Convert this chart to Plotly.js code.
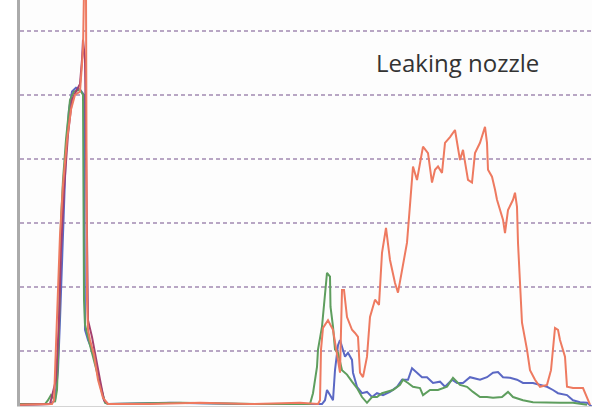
<!DOCTYPE html>
<html>
<head>
<meta charset="utf-8">
<script src="https://cdn.plot.ly/plotly-3.0.1.min.js"></script>
<style>html,body{margin:0;padding:0;background:#fff;}#chart{width:597px;height:412px;}</style>
</head>
<body>
<div id="chart"></div>
<script>
// Sample index (x) and signal level (y)
const redX = [0,20,32,34,36,38,40,43,47,51,55,60,63,64,66,67,68,70,74,78,83,88,130,180,230,280,298,300,301,303,308,313,316,320,322,324,327,332,335,338,340,343,347,350,355,359,362,366,370,375,378,383,387,390,393,397,403,408,412,415,418,422,425,430,435,440,443,448,452,455,460,465,467,468,472,475,477,483,485,488,493,495,497,498,500,502,507,510,515,520,527,531,535,538,540,545,547,553,563,567,570];
const redY = [0.16,0.17,0.17,0.23,1.09,1.80,2.81,3.59,4.30,4.77,5.00,5.05,5.70,6.64,6.64,1.80,1.33,1.17,0.94,0.55,0.27,0.17,0.17,0.19,0.17,0.19,0.17,0.23,1.02,1.36,1.48,1.33,1.02,0.66,1.95,1.95,1.53,1.33,1.28,1.22,0.66,0.59,0.91,1.53,1.80,1.72,2.53,2.92,2.42,2.06,1.91,2.38,2.69,3.28,3.88,3.67,4.19,4.09,3.63,3.83,3.88,3.78,4.25,4.34,4.45,3.98,4.14,3.67,3.63,4.09,4.25,4.50,4.25,3.83,3.72,3.52,3.36,3.05,2.84,3.20,3.36,3.47,3.25,2.69,2.11,1.44,1.02,0.70,0.55,0.44,0.47,0.70,1.36,1.33,1.17,0.91,0.44,0.42,0.42,0.28,0.16];

const blueX = [0,30,35,38,40,42,44,46,49,52,56,60,64,65,68,72,76,80,84,88,150,220,300,302,305,307,310,313,315,318,320,325,328,332,333,337,342,347,352,357,363,370,377,382,388,392,397,402,407,413,420,425,432,437,443,450,460,467,473,478,483,490,497,503,513,520,527,533,538,547,553,560,567,572];
const blueY = [0.16,0.17,0.23,0.70,1.48,2.42,3.36,4.14,4.77,5.05,5.11,5.08,5.00,1.33,1.17,1.02,0.78,0.47,0.23,0.17,0.19,0.17,0.17,0.17,0.23,0.39,0.31,0.23,0.70,1.09,1.17,0.91,0.97,0.86,0.66,0.44,0.34,0.36,0.28,0.34,0.31,0.36,0.44,0.55,0.55,0.73,0.66,0.59,0.59,0.50,0.52,0.44,0.55,0.50,0.50,0.59,0.55,0.59,0.66,0.67,0.59,0.58,0.55,0.50,0.50,0.47,0.44,0.39,0.34,0.31,0.23,0.20,0.19,0.13];

const greenX = [0,25,28,31,33,35,37,39,40,41,43,46,50,54,60,63,64,65,70,75,80,85,88,160,240,290,293,297,298,302,307,310,310.5,313,315,318,322,327,332,337,342,347,352,357,362,367,373,380,383,388,393,400,403,410,418,427,433,440,447,453,460,467,473,482,488,493,503,513,527,540,553,567];
const greenY = [0.17,0.17,0.23,0.31,0.27,0.20,0.39,1.33,2.27,3.05,3.67,4.30,4.92,5.05,5.08,5.00,1.80,1.41,1.09,0.78,0.47,0.19,0.17,0.19,0.17,0.17,0.34,0.75,1.02,1.38,2.22,2.16,1.69,1.38,1.02,0.97,0.70,0.63,0.52,0.42,0.28,0.19,0.28,0.28,0.34,0.36,0.39,0.47,0.55,0.50,0.44,0.42,0.31,0.39,0.39,0.44,0.58,0.47,0.44,0.36,0.28,0.28,0.27,0.28,0.36,0.28,0.23,0.20,0.19,0.19,0.19,0.16];

const magentaX = [0,30,36,39,41,44,48,52,56,60,62,63,65,67,68,72,76,80,84,88,100];
const magentaY = [0.16,0.17,0.55,1.48,2.58,3.52,4.38,4.92,5.05,5.17,5.55,5.86,5.55,3.00,1.48,1.22,0.86,0.55,0.23,0.17,0.17];

const gridValues = [1,2,3,4,5,6];
const label = 'Leaking nozzle';

const mk = (x, y, color) => ({
  x: x, y: y, type: 'scatter', mode: 'lines',
  line: {color: color, width: 2}, hoverinfo: 'skip', showlegend: false
});

const data = [
  mk(blueX, blueY, '#5b68c4'),
  mk(greenX, greenY, '#5e9e5e'),
  mk(magentaX, magentaY, '#a4406e'),
  mk(redX, redY, '#ee7a60')
];

const layout = {
  width: 597, height: 412,
  margin: {l: 20, r: 5, t: 0, b: 6, pad: 0},
  paper_bgcolor: '#ffffff', plot_bgcolor: '#fdfdfd',
  showlegend: false,
  xaxis: {
    range: [0, 572], showgrid: false, zeroline: false,
    showticklabels: false, ticks: '',
    showline: true, linecolor: '#d4d4d4', linewidth: 1
  },
  yaxis: {
    range: [0.14, 6.48], tickvals: gridValues, showticklabels: false, ticks: '',
    showgrid: true, gridcolor: '#b8a6c4', gridwidth: 2, griddash: '4px,3px',
    zeroline: false, showline: true, linecolor: '#ababab', linewidth: 3
  },
  annotations: [{
    text: label, xref: 'paper', yref: 'paper', x: 0.764, y: 0.847,
    xanchor: 'center', yanchor: 'middle', showarrow: false,
    font: {family: 'Open Sans, sans-serif', size: 24, color: '#333333'}
  }]
};

Plotly.newPlot('chart', data, layout, {staticPlot: true, displayModeBar: false});
</script>
</body>
</html>
